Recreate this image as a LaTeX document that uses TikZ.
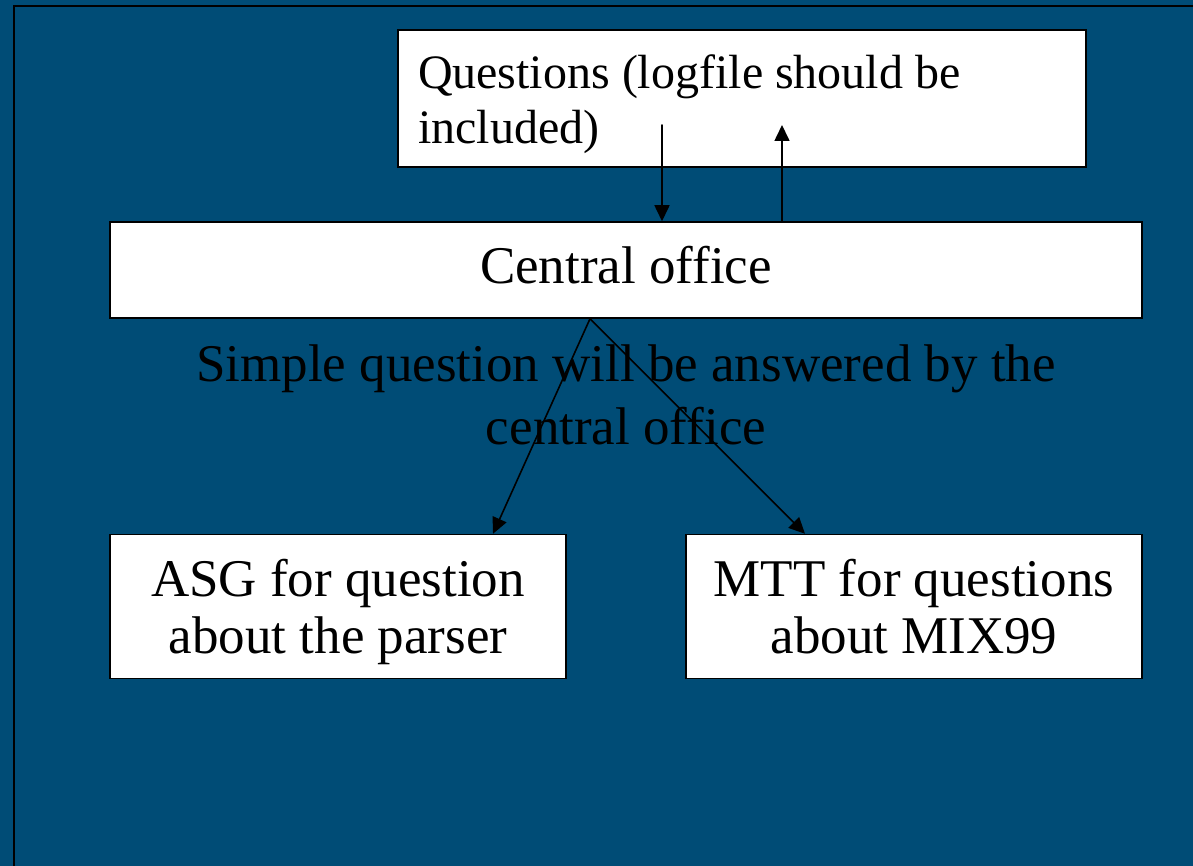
\documentclass[tikz,border=0pt]{standalone}
\usepackage{amsmath,amssymb}
\usepackage[svgnames]{xcolor}
\usepackage{fontspec}
\setmainfont[Ligatures=NoCommon]{Liberation Serif}
\usepackage{tkz-euclide}
\usepackage{tikz}
\usetikzlibrary{arrows.meta}

\definecolor{slideblue}{RGB}{0,76,118}
\tikzset{
  whitebox/.style={draw=black, line width=1.5pt, fill=white, inner xsep=20pt, inner ysep=0pt},
  bigtext/.style={font=\fontsize{53}{57}\selectfont},
  arr/.style={draw=black, line width=1.6pt, -{Triangle[length=16pt,width=15pt]}},
}

\begin{document}
\begin{tikzpicture}[x=1pt, y=-1pt]
        \useasboundingbox (0,0) rectangle (1193,866);
        \fill[slideblue] (0,0) rectangle (1193,866);
        \draw[line width=2pt] (14,866) -- (14,6) -- (1193,6);

        \node[whitebox, minimum width=688pt, minimum height=137pt, text width=648pt, align=flush left,
              font=\fontsize{48}{55}\selectfont, text height=33pt, text depth=52pt]
              (quest) at (742,98.5) {Questions (logfile should be\\included)};
        \node[whitebox, minimum width=1032pt, minimum height=96pt, bigtext,
              text height=36pt, text depth=8pt] (office) at (626,270) {Central office};
        \node[font=\fontsize{53}{63}\selectfont, text width=1000pt, align=flush center, inner sep=0pt,
              text height=36pt, text depth=63pt] (note) at (626,394.5)
              {Simple question will be answered by the\\central office};
        \node[whitebox, minimum width=456pt, minimum height=144pt, text width=416pt, align=flush center,
              bigtext, text height=36pt, text depth=57pt] (asg) at (338,606.5)
              {ASG for question\\about the parser};
        \node[whitebox, minimum width=456pt, minimum height=144pt, text width=416pt, align=flush center,
              bigtext, text height=36pt, text depth=57pt] (mtt) at (914,606.5)
              {MTT for questions\\about MIX99};

        \tkzDefPoint(662,125){Q_1}
        \tkzDefPoint(782,125){Q_3}
        \coordinate (Q_2) at (Q_1 |- office.north);
        \coordinate (Q_4) at (Q_3 |- office.north);
        \path (office.south) ++(-36,0) coordinate (A_0);
        \path (asg.north) ++(155,0) coordinate (A_1);
        \path (mtt.north) ++(-109,0) coordinate (A_2);

        \tkzDrawSegment[arr](Q_1,Q_2)
        \tkzDrawSegment[arr](Q_4,Q_3)
        \tkzDrawSegment[arr](A_0,A_1)
        \tkzDrawSegment[arr](A_0,A_2)
    \end{tikzpicture}
\end{document}
